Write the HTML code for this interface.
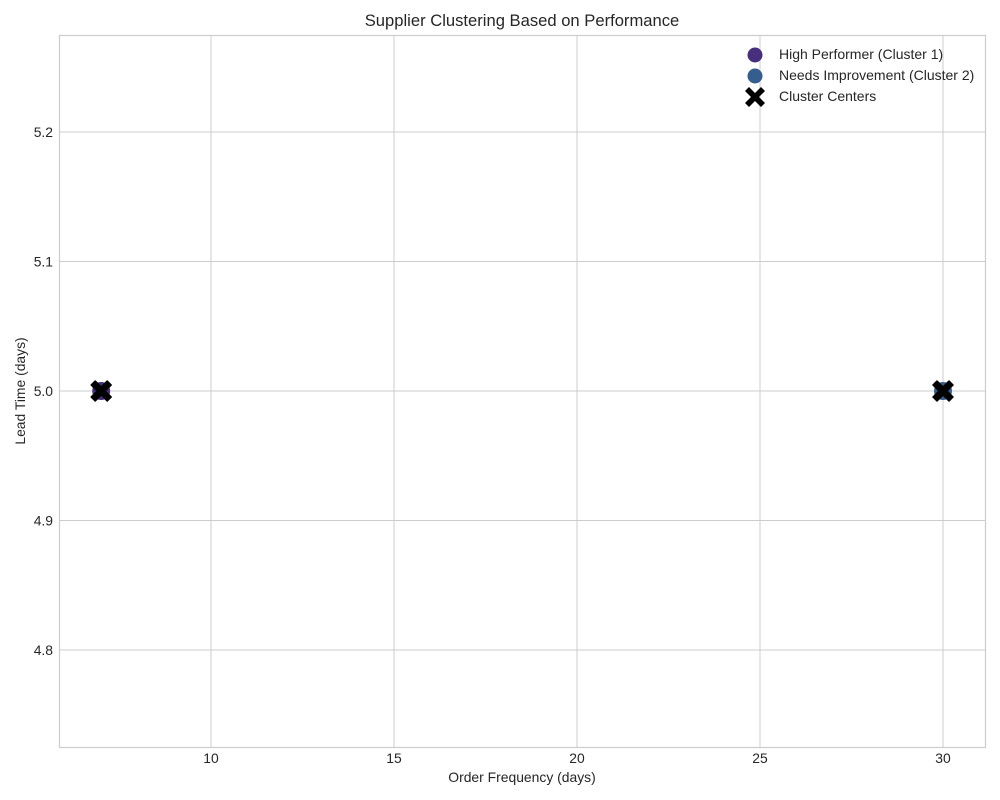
<!DOCTYPE html>
<html><head><meta charset="utf-8">
<style>
html,body{margin:0;padding:0;background:#fff;}
svg{display:block;font-family:"Liberation Sans","DejaVu Sans",sans-serif;}
</style></head>
<body>
<svg id="chart" width="1000" height="800" viewBox="0 0 1000 800">
<rect x="0" y="0" width="1000" height="800" fill="#fff"/>
<text x="522" y="26" text-anchor="middle" font-size="16.6" fill="#262626">Supplier Clustering Based on Performance</text>
<g id="grid"></g>
<g id="ticks"></g>
<rect x="59.5" y="35.5" width="926" height="712" fill="none" stroke="#cccccc" stroke-width="1.2"/>
<g id="marks"></g>
<text x="522" y="782" text-anchor="middle" font-size="13.9" fill="#262626">Order Frequency (days)</text>
<text transform="translate(25,391) rotate(-90)" text-anchor="middle" font-size="13.9" fill="#262626">Lead Time (days)</text>
<g id="legend">
  <circle cx="755" cy="55" r="7.5" fill="#482f7e"/>
  <text x="779" y="59" font-size="14" fill="#262626">High Performer (Cluster 1)</text>
  <circle cx="755" cy="76" r="7.5" fill="#355e8f"/>
  <text x="779" y="80" font-size="14" fill="#262626">Needs Improvement (Cluster 2)</text>
  <path d="M745,91 l4,-4 l6,6 l6,-6 l4,4 l-6,6 l6,6 l-4,4 l-6,-6 l-6,6 l-4,-4 l6,-6 z" fill="#000"/>
  <text x="779" y="101" font-size="14" fill="#262626">Cluster Centers</text>
</g>
</svg>
<script>
const xTicks = [10, 15, 20, 25, 30];
const yTicks = [4.8, 4.9, 5.0, 5.1, 5.2];
const yTickLabels = ["4.8", "4.9", "5.0", "5.1", "5.2"];
const clusterNames = ["High Performer (Cluster 1)", "Needs Improvement (Cluster 2)"];
const clusterColors = ["#482f7e", "#355e8f"];
const orderFreq = [7, 30];
const leadTime = [5.0, 5.0];
const centerX = [7, 30];
const centerY = [5.0, 5.0];

const NS = "http://www.w3.org/2000/svg";
function xs(v){ return 211 + (v - 10) * 36.6; }
function ys(v){ return 391 - (v - 5.0) * 1295; }
function mk(tag, attrs, parent){
  const e = document.createElementNS(NS, tag);
  for (const k in attrs) e.setAttribute(k, attrs[k]);
  parent.appendChild(e);
  return e;
}
const grid = document.getElementById("grid");
const ticks = document.getElementById("ticks");
const marks = document.getElementById("marks");
xTicks.forEach(function(t){
  const x = xs(t);
  const l = mk("line", {x1:x, x2:x, y1:35, y2:747, stroke:"#cccccc", "stroke-width":1}, grid);
  
  
  const tx = mk("text", {x:x, y:763, "text-anchor":"middle", "font-size":13.9, fill:"#262626"}, ticks);
  tx.textContent = String(t);
  
  
});
yTicks.forEach(function(t, i){
  const y = ys(t);
  const l = mk("line", {x1:59, x2:985, y1:y, y2:y, stroke:"#cccccc", "stroke-width":1}, grid);
  
  
  const tx = mk("text", {x:53, y:y + 5, "text-anchor":"end", "font-size":13.9, fill:"#262626"}, ticks);
  tx.textContent = yTickLabels[i];
  
  
});
orderFreq.forEach(function(v, i){
  const c = mk("circle", {cx:xs(v), cy:ys(leadTime[i]), r:9, fill:clusterColors[i]}, marks);
  
  
});
centerX.forEach(function(v, i){
  const cx = xs(v), cy = ys(centerY[i]);
  const d = "M" + (cx - 10) + "," + (cy - 6) + " l4,-4 l6,6 l6,-6 l4,4 l-6,6 l6,6 l-4,4 l-6,-6 l-6,6 l-4,-4 l6,-6 z";
  const p = mk("path", {d:d, fill:"#000", stroke:"#000", "stroke-width":1.5, "stroke-linejoin":"round"}, marks);
  
  
});
</script>
</body></html>
